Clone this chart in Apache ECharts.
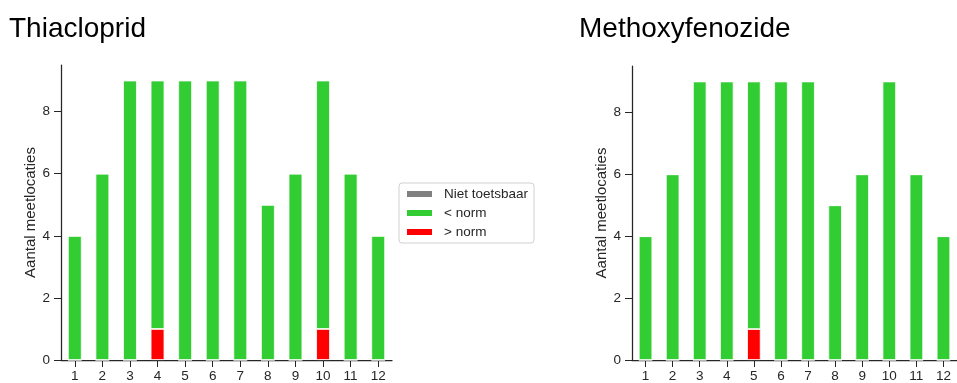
<!DOCTYPE html>
<html>
<head>
<meta charset="utf-8">
<script src="https://cdn.jsdelivr.net/npm/echarts@6/dist/echarts.min.js"></script>
<style>html,body{margin:0;padding:0;background:#fff}#c{width:957px;height:383px}</style>
</head>
<body>
<div id="c"></div>
<script>
var months = ['1','2','3','4','5','6','7','8','9','10','11','12'];
var titles = ['Thiacloprid', 'Methoxyfenozide'];
var seriesNames = ['Niet toetsbaar', '< norm', '> norm'];
var colors = ['#808080', '#32CD32', '#FF0000'];
// Thiacloprid
var thiaNiet = [0,0,0,0,0,0,0,0,0,0,0,0];
var thiaBelow = [4,6,9,8,9,9,9,5,6,8,6,4];
var thiaAbove = [0,0,0,1,0,0,0,0,0,1,0,0];
// Methoxyfenozide
var methNiet = [0,0,0,0,0,0,0,0,0,0,0,0];
var methBelow = [4,6,9,9,8,9,9,5,6,9,6,4];
var methAbove = [0,0,0,0,1,0,0,0,0,0,0,0];
var yTicks = [0,2,4,6,8];

var font = 'Liberation Sans, Arial, sans-serif';
var axisColor = '#262626';
var chart = echarts.init(document.getElementById('c'), null, {renderer:'canvas'});

function xAxis(i){
  return {type:'category', gridIndex:i, data:months, boundaryGap:true,
    axisLine:{show:true, lineStyle:{color:axisColor, width:1.25}},
    axisTick:{show:true, alignWithLabel:true, length:7, lineStyle:{color:axisColor, width:1}},
    axisLabel:{color:axisColor, fontSize:13.5, fontFamily:font, margin:9}};
}
function yAxis(i){
  return {type:'value', gridIndex:i, min:0, max:9.5, interval:2,
    name:'Aantal meetlocaties', nameLocation:'middle', nameGap:23, nameRotate:90,
    nameTextStyle:{color:axisColor, fontSize:15, fontFamily:font},
    splitLine:{show:false},
    axisLine:{show:true, lineStyle:{color:axisColor, width:1.25}},
    axisLabel:{color:axisColor, fontSize:13.5, fontFamily:font, margin:11,
      customValues: yTicks},
    axisTick:{show:true, length:7, customValues:yTicks, lineStyle:{color:axisColor, width:1}}};
}
function bars(i, niet, below, above){
  var st = 's'+i;
  var mk = function(name, data, color){
    return {name:name, type:'bar', xAxisIndex:i, yAxisIndex:i, stack:st, data:data,
      barWidth:'50%', itemStyle:{color:color, borderColor:'#fff', borderWidth:0.8},
      emphasis:{disabled:true}};
  };
  return [mk(seriesNames[2], above, colors[2]), mk(seriesNames[1], below, colors[1]), mk(seriesNames[0], niet, colors[0])];
}

chart.setOption({
  animation:false,
  title:[
    {text:titles[0], left:9, top:15, padding:0, textStyle:{fontSize:28, fontWeight:'normal', color:'#000', fontFamily:font}},
    {text:titles[1], left:579, top:15, padding:0, textStyle:{fontSize:28, fontWeight:'normal', color:'#000', fontFamily:font}}
  ],
  legend:{
    data:seriesNames, orient:'vertical', left:399, top:183,
    itemWidth:27, itemHeight:8, itemGap:5, icon:'rect',
    padding:[4,6,4,6], borderColor:'#d0d0d0', borderWidth:1, borderRadius:3,
    textStyle:{fontSize:13.5, color:'#262626', fontFamily:font, padding:[0,0,0,6]},
    selectedMode:false
  },
  grid:[
    {left:61, right:565, top:65, bottom:20},
    {left:632, right:-6, top:66, bottom:19}
  ],
  xAxis:[xAxis(0), xAxis(1)],
  yAxis:[yAxis(0), yAxis(1)],
  series:[].concat(bars(0, thiaNiet, thiaBelow, thiaAbove), bars(1, methNiet, methBelow, methAbove))
});
</script>
</body>
</html>
